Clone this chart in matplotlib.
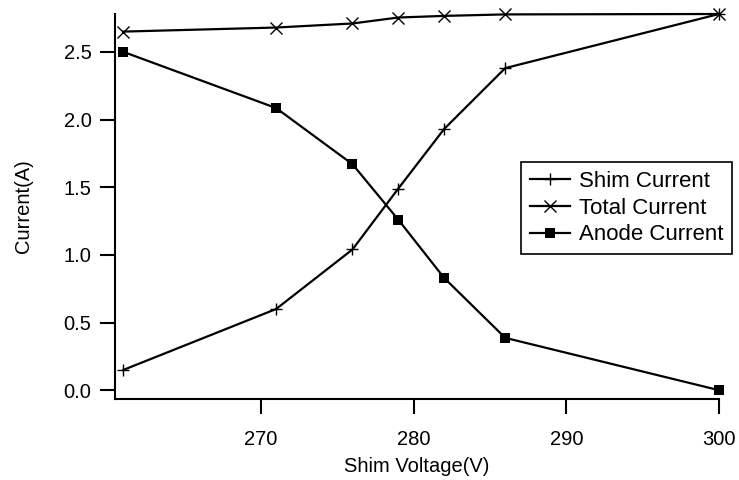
import matplotlib
matplotlib.use("Agg")
import matplotlib.pyplot as plt

plt.rcParams['font.family'] = ['Liberation Sans', 'DejaVu Sans']

shim_voltage = [261, 271, 276, 279, 282, 286, 300]
shim_current = [0.15, 0.60, 1.04, 1.49, 1.93, 2.38, 2.78]
total_current = [2.65, 2.68, 2.71, 2.754, 2.766, 2.777, 2.78]
anode_current = [2.50, 2.085, 1.67, 1.26, 0.83, 0.387, 0.0]

x_ticks = [270, 280, 290, 300]
y_ticks = [0.0, 0.5, 1.0, 1.5, 2.0, 2.5]

fig = plt.figure(figsize=(7.39, 4.80), dpi=100)
ax = fig.add_axes([115/739, 1-399/480, (719-115)/739, (399-14)/480])

lw = 1.6
ax.plot(shim_voltage, shim_current, color='black', lw=lw, marker='+', ms=9,
        mew=1.0, label='Shim Current')
ax.plot(shim_voltage, total_current, color='black', lw=lw, marker='x', ms=8,
        mew=1.0, label='Total Current')
ax.plot(shim_voltage, anode_current, color='black', lw=lw, marker='s', ms=7,
        mew=0, label='Anode Current')

ax.set_xlim(260.45, 300)
ax.set_ylim(-0.065, 2.78)
ax.set_xticks(x_ticks)
ax.set_yticks(y_ticks)
ax.set_yticklabels([f"{v:.1f}" for v in y_ticks])

for s in ['top', 'right']:
    ax.spines[s].set_visible(False)
for s in ['left', 'bottom']:
    ax.spines[s].set_linewidth(1.5)
ax.tick_params(direction='out', length=11, width=1.5, labelsize=14.5)
ax.tick_params(axis='y', pad=6)
ax.tick_params(axis='x', pad=11)

ax.set_xlabel('Shim Voltage(V)', fontsize=14.5, labelpad=6)
ax.set_ylabel('Current(A)', fontsize=14.5, labelpad=22)

for line in ax.get_lines():
    line.set_clip_on(False)

leg = ax.legend(loc='upper left', bbox_to_anchor=((521-115)/604, 1-(162-14)/385),
                fontsize=16, frameon=True, fancybox=False, framealpha=1,
                edgecolor='black', borderpad=0.4, handlelength=1.8,
                handletextpad=0.4, labelspacing=0.26, borderaxespad=0)
leg.get_frame().set_linewidth(1.2)

fig.savefig('out.png', dpi=100)
